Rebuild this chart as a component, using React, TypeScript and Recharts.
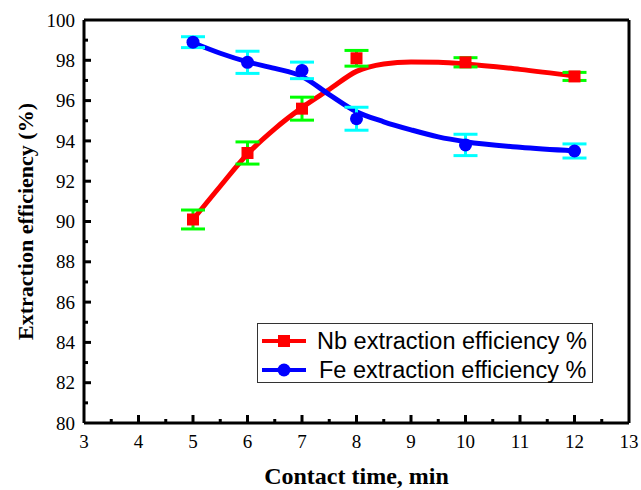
import React from 'react';
import {
  ComposedChart, Line, Scatter, XAxis, YAxis, ErrorBar, ReferenceLine,
} from 'recharts';

// measured points
const times = [5, 6, 7, 8, 10, 12];
const nbValues = [90.1, 93.4, 95.6, 98.1, 97.9, 97.2];
const nbErrors = [0.47, 0.55, 0.57, 0.39, 0.23, 0.2];
const feValues = [98.9, 97.9, 97.5, 95.1, 93.8, 93.5];
const feErrors = [0.27, 0.55, 0.41, 0.57, 0.53, 0.35];

// fitted curves
const curveX = [5, 5.5, 6, 6.5, 7, 7.5, 8, 8.5, 9, 9.5, 10, 11, 12];
const nbCurve = [90.1, 91.75, 93.35, 94.6, 95.65, 96.55, 97.45, 97.82, 97.92, 97.9, 97.82, 97.55, 97.22];
const feCurve = [98.87, 98.35, 97.92, 97.6, 97.2, 96.3, 95.45, 94.95, 94.55, 94.2, 93.96, 93.68, 93.5];

const xTicks = [3, 3.5, 4, 4.5, 5, 5.5, 6, 6.5, 7, 7.5, 8, 8.5, 9, 9.5, 10, 10.5, 11, 11.5, 12, 12.5, 13];
const yTicks = [80, 81, 82, 83, 84, 85, 86, 87, 88, 89, 90, 91, 92, 93, 94, 95, 96, 97, 98, 99, 100];

const nbLabel = 'Nb extraction efficiency %';
const feLabel = 'Fe extraction efficiency %';
const xTitle = 'Contact time, min';
const yTitle = 'Extraction efficiency (%)';

const nbPoints = times.map((t, i) => ({ x: t, y: nbValues[i], err: nbErrors[i] }));
const fePoints = times.map((t, i) => ({ x: t, y: feValues[i], err: feErrors[i] }));
const nbLine = curveX.map((t, i) => ({ x: t, y: nbCurve[i] }));
const feLine = curveX.map((t, i) => ({ x: t, y: feCurve[i] }));

const SERIF = '"Liberation Serif", "Times New Roman", serif';
const SANS = '"Liberation Sans", Arial, sans-serif';

const YTick = (props: any) => {
  const { x, y, payload } = props;
  const v = payload.value;
  const major = v % 2 === 0;
  return (
    <g>
      {v !== 100 && v !== 80 && (
        <line x1={x} x2={x + (major ? 7 : 4)} y1={y} y2={y} stroke="#000" strokeWidth={3} />
      )}
      {major && (
        <text x={x - 9} y={y} dy="0.35em" textAnchor="end" fontFamily={SERIF} fontSize={19} fill="#000">
          {v}
        </text>
      )}
    </g>
  );
};

const XTick = (props: any) => {
  const { x, y, payload } = props;
  const v = payload.value;
  const major = Number.isInteger(v);
  return (
    <g>
      {v !== 3 && v !== 13 && (
        <line x1={x} x2={x} y1={y} y2={y - (major ? 8 : 4)} stroke="#000" strokeWidth={3} />
      )}
      {major && (
        <text x={x} y={y + 25} textAnchor="middle" fontFamily={SERIF} fontSize={19} fill="#000">
          {v}
        </text>
      )}
    </g>
  );
};

const Square = (props: any) => {
  const { cx, cy } = props;
  if (cx == null || cy == null) return null;
  return <rect x={cx - 6} y={cy - 6} width={12} height={12} fill="#ff0000" />;
};

const Circle = (props: any) => {
  const { cx, cy } = props;
  if (cx == null || cy == null) return null;
  return <circle cx={cx} cy={cy} r={6.5} fill="#0000ff" />;
};

const LegendBox = () => (
  <svg width={336} height={60} style={{ display: 'block' }}>
    <rect x={0.5} y={0.5} width={335} height={59} fill="#fff" stroke="#333" strokeWidth={1} />
    <line x1={5} x2={49} y1={18} y2={18} stroke="#ff0000" strokeWidth={4} />
    <rect x={21} y={12} width={12} height={12} fill="#ff0000" />
    <text x={60} y={18} dy="0.35em" fontFamily={SANS} fontSize={23.5} fill="#000">{nbLabel}</text>
    <line x1={5} x2={49} y1={47} y2={47} stroke="#0000ff" strokeWidth={4} />
    <circle cx={27} cy={47} r={6.5} fill="#0000ff" />
    <text x={62} y={47} dy="0.35em" fontFamily={SANS} fontSize={23.5} fill="#000">{feLabel}</text>
  </svg>
);

export default function App() {
  return (
    <div style={{ position: 'absolute', left: 0, top: 0, width: 641, height: 490, background: '#fff' }}>
      <ComposedChart width={641} height={490} margin={{ top: 20, right: 12, left: 0, bottom: 0 }}>
        <XAxis
          type="number"
          dataKey="x"
          domain={[3, 13]}
          ticks={xTicks}
          interval={0}
          allowDataOverflow
          height={67}
          tickSize={0}
          tickMargin={0}
          tick={<XTick />}
          axisLine={{ stroke: '#000', strokeWidth: 3 }}
          label={{
            content: (p: any) => {
              const vb = p.viewBox || {};
              return (
                <text x={vb.x + vb.width / 2} y={484} textAnchor="middle" fontFamily={SERIF} fontWeight="bold" fontSize={24} fill="#000">
                  {xTitle}
                </text>
              );
            },
          }}
        />
        <YAxis
          type="number"
          dataKey="y"
          domain={[80, 100]}
          ticks={yTicks}
          interval={0}
          allowDataOverflow
          width={84}
          tickSize={0}
          tickMargin={0}
          tick={<YTick />}
          axisLine={{ stroke: '#000', strokeWidth: 3 }}
          label={{
            content: (p: any) => {
              const vb = p.viewBox || {};
              const cy = vb.y + vb.height / 2;
              return (
                <text x={25} y={cy} transform={`rotate(-90 25 ${cy})`} textAnchor="middle" dy="0.35em" fontFamily={SERIF} fontWeight="bold" fontSize={22} fill="#000">
                  {yTitle}
                </text>
              );
            },
          }}
        />
        <ReferenceLine y={100} stroke="#000" strokeWidth={3} />
        <ReferenceLine x={13} stroke="#000" strokeWidth={3} />
        <Line data={nbLine} dataKey="y" type="monotone" stroke="#ff0000" strokeWidth={5} dot={false} activeDot={false} isAnimationActive={false} legendType="none" />
        <Scatter data={nbPoints} dataKey="y" shape={<Square />} isAnimationActive={false} legendType="none">
          <ErrorBar dataKey="err" direction="y" width={12} stroke="#00ff00" strokeWidth={3} isAnimationActive={false} />
        </Scatter>
        <Line data={feLine} dataKey="y" type="monotone" stroke="#0000ff" strokeWidth={5} dot={false} activeDot={false} isAnimationActive={false} legendType="none" />
        <Scatter data={fePoints} dataKey="y" shape={<Circle />} isAnimationActive={false} legendType="none">
          <ErrorBar dataKey="err" direction="y" width={12} stroke="#00ffff" strokeWidth={3} isAnimationActive={false} />
        </Scatter>
      </ComposedChart>
      <div style={{ position: 'absolute', left: 257, top: 323, width: 336, height: 60 }}>
        <LegendBox />
      </div>
    </div>
  );
}
